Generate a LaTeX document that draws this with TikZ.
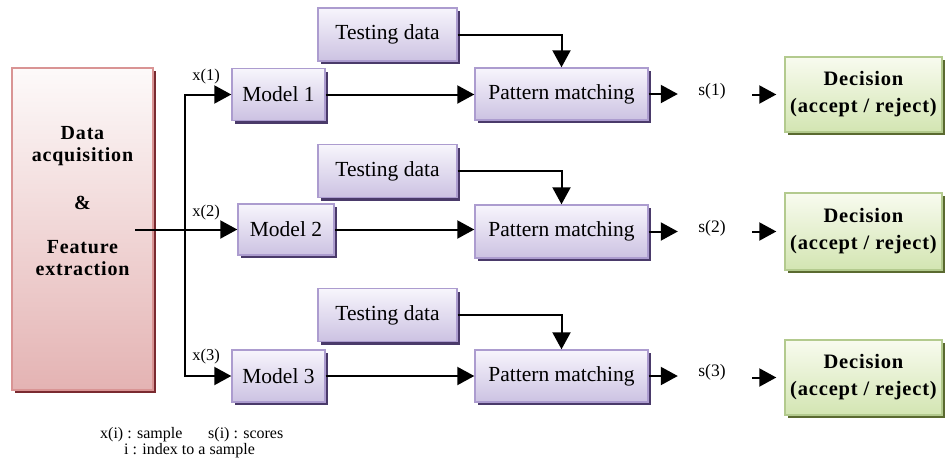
\documentclass[tikz,border=0pt]{standalone}
\usepackage{fontspec}
\setmainfont{Liberation Serif}
\newfontfamily\spacedbold[LetterSpace=4]{Liberation Serif}
\usetikzlibrary{arrows.meta,shadows}

\definecolor{pinkTop}{HTML}{FDFAFA}
\definecolor{pinkBot}{HTML}{E4B3B3}
\definecolor{pinkLine}{HTML}{D99494}
\definecolor{pinkShade}{HTML}{7A2A30}
\definecolor{lavTop}{HTML}{F7F5FC}
\definecolor{lavBot}{HTML}{CCC2E2}
\definecolor{lavLine}{HTML}{AC9CCF}
\definecolor{lavShade}{HTML}{4A3A6A}
\definecolor{grnTop}{HTML}{F8FBEF}
\definecolor{grnBot}{HTML}{D3E5B2}
\definecolor{grnLine}{HTML}{B3CA8E}
\definecolor{grnShade}{HTML}{5A6A30}

\tikzset{
  boxbase/.style={rectangle, line width=1.4pt, inner sep=0pt, align=center, font=\fontsize{21.5}{24}\selectfont},
  srcbox/.style={boxbase, draw=pinkLine, top color=pinkTop, bottom color=pinkBot,
    general shadow={fill=pinkShade, shadow xshift=3pt, shadow yshift=-3pt},
    minimum width=141pt, minimum height=322pt},
  lavbox/.style={boxbase, draw=lavLine, top color=lavTop, bottom color=lavBot,
    general shadow={fill=lavShade, shadow xshift=3pt, shadow yshift=-3pt},
    minimum height=52pt},
  decbox/.style={boxbase, draw=grnLine, top color=grnTop, bottom color=grnBot,
    general shadow={fill=grnShade, shadow xshift=3pt, shadow yshift=-3pt},
    minimum width=157pt, minimum height=75pt,
    font=\spacedbold\bfseries\fontsize{20.5}{27}\selectfont},
  srctext/.style={align=center, inner sep=0pt, font=\spacedbold\bfseries\fontsize{20}{22}\selectfont},
  arr/.style={line width=2pt, -{Triangle[length=17pt, width=18pt]}},
  xlab/.style={font=\fontsize{16.5}{16.5}\selectfont},
  slab/.style={font=\fontsize{17.5}{17.5}\selectfont, minimum width=60pt, inner sep=0pt},
  legend/.style={font=\fontsize{16}{16}\selectfont, anchor=base west, inner sep=0pt}
}

\begin{document}
\begin{tikzpicture}[x=1pt, y=-1pt]
\useasboundingbox (0,0) rectangle (945,464);

% source block (caption sits in the upper part of the box)
\node[srcbox] (DA) at (82.5,229) {};
\node[srctext] (DAtext) at (82.5,201)
  {Data\\acquisition\\[26pt]\&\\[22pt]Feature\\extraction};

% models
\node[lavbox, minimum width=93pt] (M1) at (278.5,94.5) {Model 1};
\node[lavbox, minimum width=96pt, minimum height=51pt] (M2) at (286,229.5) {Model 2};
\node[lavbox, minimum width=93pt] (M3) at (278.5,376) {Model 3};

% testing data
\node[lavbox, minimum width=139pt, minimum height=53pt] (TD1) at (387.5,34.5) {Testing data};
\node[lavbox, minimum width=139pt, minimum height=53pt] (TD2) at (387.5,171) {Testing data};
\node[lavbox, minimum width=139pt, minimum height=53pt] (TD3) at (387.5,315) {Testing data};

% pattern matching
\node[lavbox, minimum width=173pt] (PM1) at (561.5,94) {Pattern matching};
\node[lavbox, minimum width=173pt, minimum height=53pt] (PM2) at (561.5,231.5) {Pattern matching};
\node[lavbox, minimum width=173pt] (PM3) at (561.5,376) {Pattern matching};

% decisions
\node[decbox] (D1) at (863.5,94.5) {Decision\\(accept / reject)};
\node[decbox, minimum height=77pt] (D2) at (863.5,231.5) {Decision\\(accept / reject)};
\node[decbox] (D3) at (863.5,377.5) {Decision\\(accept / reject)};

% scores
\node[slab] (S1) at (712,91) {s(1)};
\node[slab] (S2) at (712,228) {s(2)};
\node[slab] (S3) at (712,372) {s(3)};

% sample labels
\node[xlab] (X1) at (206,77) {x(1)};
\node[xlab] (X2) at (206,213) {x(2)};
\node[xlab] (X3) at (206,357) {x(3)};

% feature vector fan-out
\coordinate (src) at (135,229.5);
\coordinate (split) at (185,229.5);
\draw[arr] (src) -- (M2.west);
\draw[arr] (split) |- (M1.west);
\draw[arr] (split) |- (M3.west);

% model to matcher
\foreach \i in {1,2,3}{
  \draw[arr] (M\i.east) -- (PM\i.west |- M\i.east);
  \draw[arr] (TD\i.east) -| (PM\i.north);
  \draw[arr, shorten >=4pt] (PM\i.east) -- (S\i.west |- PM\i.east);
  \draw[arr, shorten <=10pt, shorten >=8pt] (S\i.east |- D\i.west) -- (D\i.west);
}

% legend
\node[legend] (L1) at (100,438) {x(i) : sample};
\node[legend] (L2) at (208,438) {s(i) : scores};
\node[legend] (L3) at (124,454) {i : index to a sample};
\end{tikzpicture}
\end{document}
